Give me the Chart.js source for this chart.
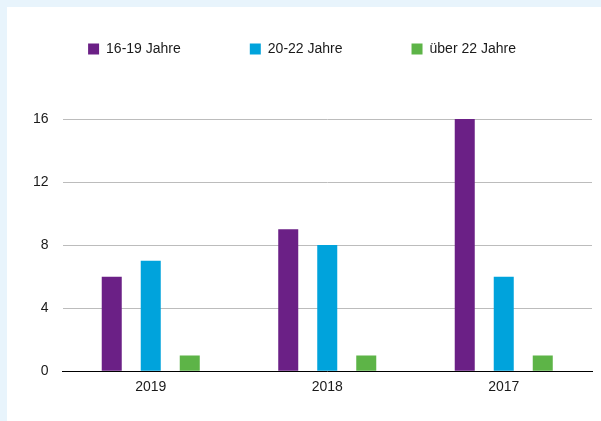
<!DOCTYPE html>
<html>
<head>
<meta charset="utf-8">
<script src="https://cdn.jsdelivr.net/npm/chart.js@4/dist/chart.umd.min.js"></script>
<style>
  html, body { margin: 0; padding: 0; background: #e8f4fc; }
  #wrap { position: absolute; left: 7px; top: 7px; width: 594px; height: 414px; background: #fff; }
</style>
</head>
<body>
<div id="wrap"><canvas id="ageChart" width="594" height="414"></canvas></div>
<script>
const years = ['2019', '2018', '2017']
const jahre16bis19 = [6, 9, 16]
const jahre20bis22 = [7, 8, 6]
const ueber22 = [1, 1, 1]
const yTicks = [0, 4, 8, 12, 16]

Chart.defaults.font.family = '"Liberation Sans", Arial, sans-serif'
Chart.defaults.font.size = 14
Chart.defaults.color = '#1a1a1a'

// legend needs more room below it than labels.padding gives
const legendSpace = {
    id: 'legendSpace',
    afterInit(chart) {
        const origFit = chart.legend.fit
        chart.legend.fit = function() {
            origFit.bind(chart.legend)()
            this.height = 146
        }
    }
}

const ctx = document.getElementById('ageChart').getContext('2d')
const myChart = new Chart(ctx, {
    type: 'bar',
    data: {
        labels: years,
        datasets: [
            { label: '16-19 Jahre', data: jahre16bis19, backgroundColor: '#6b2086' },
            { label: '20-22 Jahre', data: jahre20bis22, backgroundColor: '#00a3dc' },
            { label: 'über 22 Jahre', data: ueber22, backgroundColor: '#5db447' }
        ]
    },
    options: {
        responsive: false,
        animation: false,
        layout: { padding: { top: -34, left: 5, right: 9, bottom: 17 } },
        datasets: {
            bar: { categoryPercentage: 0.663, barPercentage: 0.513 }
        },
        plugins: {
            legend: {
                labels: { boxWidth: 11, boxHeight: 11, padding: 69 }
            },
            tooltip: { enabled: false }
        },
        scales: {
            x: {
                grid: { display: false, drawTicks: false },
                border: { color: '#000', width: 1 },
                ticks: { padding: 8 }
            },
            y: {
                min: 0,
                max: 16,
                afterFit(axis) { axis.width = 50.5 },
                afterBuildTicks(axis) { axis.ticks = yTicks.map(v => ({ value: v })) },
                grid: { color: '#bcbcbc', drawTicks: false },
                border: { display: false },
                ticks: { padding: 14 }
            }
        }
    },
    plugins: [legendSpace]
})
</script>
</body>
</html>
